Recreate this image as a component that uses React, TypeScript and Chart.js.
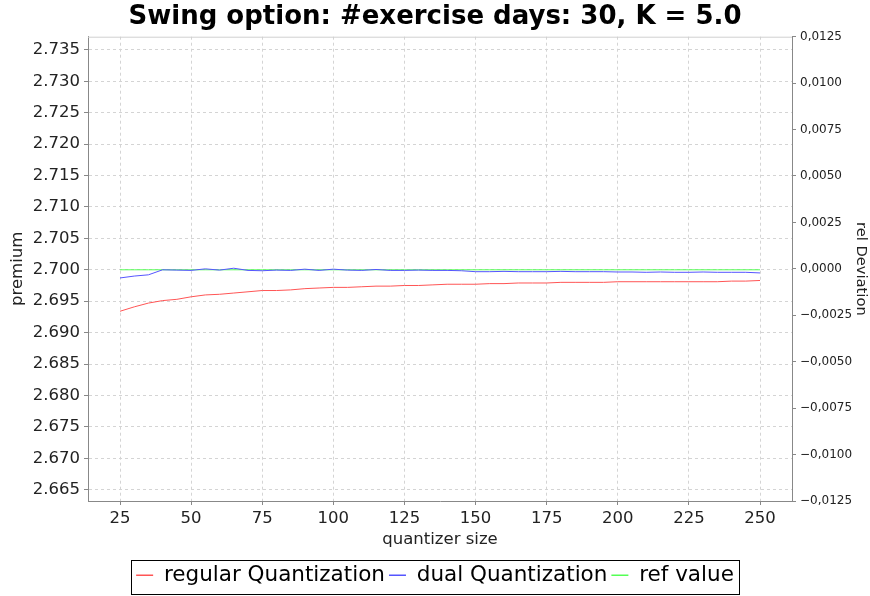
import React, { useEffect, useRef } from 'react';
import { Chart, registerables } from 'chart.js';

Chart.register(...registerables);

const quantizerSizes = [
  25, 30, 35, 40, 45, 50, 55, 60, 65, 70, 75, 80, 85, 90, 95, 100, 105, 110, 115, 120, 125, 130, 135,
  140, 145, 150, 155, 160, 165, 170, 175, 180, 185, 190, 195, 200, 205, 210, 215, 220, 225, 230, 235,
  240, 245, 250,
];

const regularQuantization = [
  2.6934, 2.6941, 2.6947, 2.6951, 2.6953, 2.6957, 2.696, 2.6961, 2.6963, 2.6965, 2.6967, 2.6967,
  2.6968, 2.697, 2.6971, 2.6972, 2.6972, 2.6973, 2.6974, 2.6974, 2.6975, 2.6975, 2.6976, 2.6977,
  2.6977, 2.6977, 2.6978, 2.6978, 2.6979, 2.6979, 2.6979, 2.698, 2.698, 2.698, 2.698, 2.6981, 2.6981,
  2.6981, 2.6981, 2.6981, 2.6981, 2.6981, 2.6981, 2.6982, 2.6982, 2.6983,
];

const dualQuantization = [
  2.6987, 2.699, 2.6992, 2.7, 2.69995, 2.6999, 2.70015, 2.69995, 2.70025, 2.6999, 2.69985, 2.69995,
  2.6999, 2.7001, 2.6999, 2.7001, 2.69995, 2.6999, 2.70005, 2.6999, 2.6999, 2.69995, 2.6999, 2.6999,
  2.69985, 2.6997, 2.6997, 2.69975, 2.6997, 2.6997, 2.6997, 2.69975, 2.6997, 2.6997, 2.6997, 2.69965,
  2.69965, 2.6996, 2.69965, 2.6996, 2.6996, 2.69965, 2.6996, 2.6996, 2.6996, 2.6995,
];

const refValue = [
  2.7, 2.7, 2.7, 2.7, 2.7, 2.7, 2.7, 2.7, 2.7, 2.7, 2.7, 2.7, 2.7, 2.7, 2.7, 2.7, 2.7, 2.7, 2.7, 2.7,
  2.7, 2.7, 2.7, 2.7, 2.7, 2.7, 2.7, 2.7, 2.7, 2.7, 2.7, 2.7, 2.7, 2.7, 2.7, 2.7, 2.7, 2.7, 2.7, 2.7,
  2.7, 2.7, 2.7, 2.7, 2.7, 2.7,
];

const sizeTicks = [25, 50, 75, 100, 125, 150, 175, 200, 225, 250];
const premiumTicks = [
  2.665, 2.67, 2.675, 2.68, 2.685, 2.69, 2.695, 2.7, 2.705, 2.71, 2.715, 2.72, 2.725, 2.73, 2.735,
];
const deviationTicks = [
  -0.0125, -0.01, -0.0075, -0.005, -0.0025, 0, 0.0025, 0.005, 0.0075, 0.01, 0.0125,
];

const FONT = "'DejaVu Sans', sans-serif";
const GRID = '#d4d4d4';
const AXIS = '#888888';
const TEXT = '#222222';

const plotOutline = {
  id: 'plotOutline',
  beforeDatasetsDraw(chart: any) {
    const { ctx, chartArea } = chart;
    ctx.save();
    ctx.strokeStyle = '#d0d0d0';
    ctx.lineWidth = 1;
    ctx.beginPath();
    ctx.moveTo(chartArea.left, chartArea.top + 0.5);
    ctx.lineTo(chartArea.right, chartArea.top + 0.5);
    ctx.stroke();
    ctx.restore();
  },
};

const legendBorder = {
  id: 'legendBorder',
  afterDraw(chart: any) {
    const hb = chart.legend && chart.legend.legendHitBoxes;
    if (!hb || !hb.length) return;
    const first = hb[0];
    const last = hb[hb.length - 1];
    const left = Math.round(first.left - 5) + 0.5;
    const right = Math.round(last.left + last.width + 5) + 0.5;
    const top = Math.round(first.top - 5) + 0.5;
    const bottom = Math.round(first.top + first.height + 8) + 0.5;
    const { ctx } = chart;
    ctx.save();
    ctx.strokeStyle = '#000000';
    ctx.lineWidth = 1;
    ctx.strokeRect(left, top, right - left, bottom - top);
    ctx.restore();
  },
};

export default function App() {
  const ref = useRef<HTMLCanvasElement | null>(null);

  useEffect(() => {
    if (!ref.current) return;
    const toPoints = (vals: number[]) => quantizerSizes.map((x, i) => ({ x, y: vals[i] }));
    const chart = new Chart(ref.current, {
      type: 'line',
      data: {
        datasets: [
          {
            label: 'regular Quantization',
            data: toPoints(regularQuantization),
            borderColor: '#ff5555',
            backgroundColor: '#ff5555',
            borderWidth: 1,
            pointRadius: 0,
            yAxisID: 'y',
          },
          {
            label: 'dual Quantization',
            data: toPoints(dualQuantization),
            borderColor: '#5555ff',
            backgroundColor: '#5555ff',
            borderWidth: 1,
            pointRadius: 0,
            yAxisID: 'y',
          },
          {
            label: 'ref value',
            data: toPoints(refValue),
            borderColor: '#55ff55',
            backgroundColor: '#55ff55',
            borderWidth: 1,
            pointRadius: 0,
            yAxisID: 'y',
          },
        ],
      },
      options: {
        responsive: false,
        animation: false,
        devicePixelRatio: 1,
        layout: { padding: { left: 0, right: 0, top: 0, bottom: 0 } },
        plugins: {
          title: {
            display: true,
            text: 'Swing option: #exercise days: 30, K = 5.0',
            color: '#000000',
            font: { family: FONT, size: 26, weight: 'bold', lineHeight: 1.2 },
            padding: { top: 2, bottom: 3.5 },
          },
          legend: {
            position: 'bottom',
            labels: {
              usePointStyle: true,
              pointStyle: 'line',
              pointStyleWidth: 17,
              color: '#000000',
              font: { family: FONT, size: 21.5 },
              padding: 4,
              generateLabels: (chart: any) =>
                chart.data.datasets.map((ds: any, i: number) => ({
                  text: ds.label,
                  fillStyle: ds.borderColor,
                  strokeStyle: ds.borderColor,
                  lineWidth: 1.5,
                  pointStyle: 'line',
                  hidden: false,
                  datasetIndex: i,
                  fontColor: '#000000',
                })),
            },
          },
          tooltip: { enabled: false },
        },
        scales: {
          x: {
            type: 'linear',
            min: 13.75,
            max: 261.25,
            afterBuildTicks: (scale: any) => {
              scale.ticks = sizeTicks.map((v) => ({ value: v }));
            },
            afterFit: (scale: any) => {
              scale.height = 59.5;
            },
            ticks: {
              color: TEXT,
              font: { family: FONT, size: 16.5 },
              padding: 4,
              maxRotation: 0,
              autoSkip: false,
              callback: (v: any) => String(v),
            },
            grid: {
              color: GRID,
              tickColor: AXIS,
              tickBorderDash: [],
              tickLength: 4,
              lineWidth: 1,
            },
            border: { display: true, color: AXIS, dash: [3, 3] },
            title: {
              display: true,
              text: 'quantizer size',
              color: TEXT,
              font: { family: FONT, size: 16.5, lineHeight: 1.2 },
              padding: { top: 0, bottom: 11 },
            },
          },
          y: {
            type: 'linear',
            position: 'left',
            min: 2.6632,
            max: 2.7371,
            afterBuildTicks: (scale: any) => {
              scale.ticks = premiumTicks.map((v) => ({ value: v }));
            },
            afterFit: (scale: any) => {
              scale.width = 88;
            },
            ticks: {
              color: TEXT,
              font: { family: FONT, size: 16.5 },
              padding: 4,
              callback: (v: any) => Number(v).toFixed(3),
            },
            grid: {
              color: GRID,
              tickColor: AXIS,
              tickBorderDash: [],
              tickLength: 4,
              lineWidth: 1,
            },
            border: { display: true, color: AXIS, dash: [3, 3] },
            title: {
              display: true,
              text: 'premium',
              color: TEXT,
              font: { family: FONT, size: 16.5, lineHeight: 1.2 },
              padding: { top: 8, bottom: 0 },
            },
          },
          y2: {
            type: 'linear',
            position: 'right',
            display: true,
            min: -0.0125,
            max: 0.0125,
            afterBuildTicks: (scale: any) => {
              scale.ticks = deviationTicks.map((v) => ({ value: v }));
            },
            afterFit: (scale: any) => {
              scale.width = 78;
            },
            ticks: {
              color: TEXT,
              font: { family: FONT, size: 12 },
              padding: 4,
              callback: (v: any) => {
                const n = Number(v);
                const s = Math.abs(n).toFixed(4).replace('.', ',');
                return n < -1e-12 ? '\u2212' + s : s;
              },
            },
            grid: {
              display: true,
              drawOnChartArea: false,
              tickColor: AXIS,
              tickLength: 4,
            },
            border: { display: true, color: AXIS },
            title: {
              display: true,
              text: 'rel Deviation',
              color: TEXT,
              font: { family: FONT, size: 14.7, lineHeight: 1.2 },
              padding: { top: 0, bottom: 0 },
            },
          },
        },
      },
      plugins: [plotOutline, legendBorder],
    } as any);
    return () => chart.destroy();
  }, []);

  return (
    <div style={{ position: 'absolute', left: 0, top: 0, width: 870, height: 596, background: '#ffffff' }}>
      <canvas ref={ref} width={870} height={596} />
    </div>
  );
}
